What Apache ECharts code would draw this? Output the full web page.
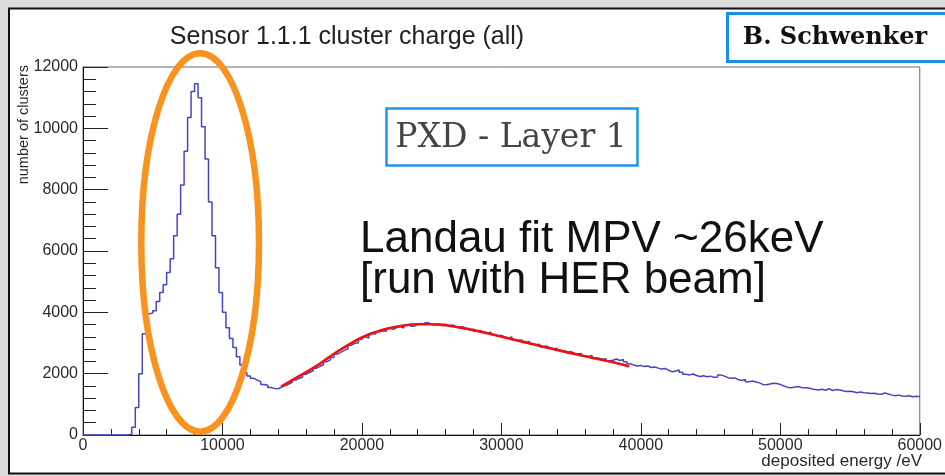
<!DOCTYPE html>
<html>
<head>
<meta charset="utf-8">
<script src="https://cdn.jsdelivr.net/npm/echarts@6/dist/echarts.min.js"></script>
<style>
  html, body { margin: 0; padding: 0; background: #dcdcdc; }
  #chart { width: 945px; height: 476px; }
</style>
</head>
<body>
<div id="chart"></div>
<script>
// Cluster charge histogram: 240 bins of 250 eV from 0 to 60000 eV
const binWidth = 250;
const energyMin = 0;
const energyMax = 60000;
const countMax = 12000;
const countStep = 2000;
const energyStep = 10000;

const clusterCounts = [
  0, 0, 0, 0, 0, 0, 0, 0, 0, 0, 0, 0, 0,
  30, 250, 900, 2000, 3300, 3950, 3980, 4050, 4350, 4650,
  4900, 5300, 5750, 6500, 7200, 8150, 9250, 10350, 11200, 11450,
  11000, 10050, 9000, 7600, 6500, 5450, 4650, 4000, 3500, 3150,
  2850, 2550, 2280, 2030, 1920, 1850, 1790, 1740, 1650, 1620,
  1550, 1520, 1510, 1560,
  1610, 1660, 1720, 1790, 1850, 1880, 1980, 2040, 2090, 2180,
  2240, 2290, 2390, 2450, 2530, 2640, 2700, 2760, 2810, 2930,
  2990, 3000, 3120, 3200, 3160, 3310, 3290, 3370, 3400, 3380,
  3470, 3450, 3500, 3540, 3490, 3580, 3620, 3550, 3600, 3640,
  3590, 3660, 3600, 3590, 3620, 3570, 3610, 3560, 3590, 3530,
  3500, 3540, 3470, 3420, 3450, 3380, 3400, 3340, 3310, 3350,
  3280, 3220, 3250, 3190, 3160, 3200, 3110, 3080, 3100, 3020,
  3050, 2970, 2940, 2960, 2880, 2900, 2840, 2810, 2830, 2760,
  2740, 2700, 2720, 2660, 2640, 2660, 2580, 2560, 2590, 2520,
  2500, 2470, 2490, 2420, 2440, 2480, 2430, 2460, 2390, 2320,
  2280, 2250, 2270, 2230, 2250, 2200, 2220, 2180, 2150, 2170,
  2110, 2060, 2090, 2120, 2050, 1980, 1960, 1990, 1940, 1910,
  1930, 1900, 1920, 1880, 1890, 1960, 1920, 1870, 1850, 1860,
  1800, 1780, 1810, 1740, 1760, 1730, 1700, 1650, 1640, 1660,
  1690, 1680, 1650, 1600, 1560, 1540, 1560, 1580, 1550, 1540,
  1530, 1510, 1480, 1470, 1490, 1460, 1510, 1450, 1480, 1470,
  1440, 1420, 1430, 1410, 1380, 1400, 1380, 1370, 1350, 1360,
  1340, 1330, 1370, 1340, 1300, 1280, 1300, 1270, 1260, 1280,
  1250, 1260, 1250
];

// Landau fit curve (energy in eV, clusters)
const fitEnergy = [14200, 15000, 16000, 17000, 18000, 19000, 20000, 21000, 22000,
  23000, 24000, 25000, 26000, 27000, 28000, 29000, 30000, 31000, 32000,
  33000, 34000, 35000, 36000, 37000, 38000, 39000, 39150];
const fitCounts = [1580, 1790, 2050, 2330, 2650, 2930, 3180, 3360, 3490,
  3570, 3610, 3610, 3580, 3510, 3420, 3320, 3210, 3100, 2990,
  2880, 2770, 2670, 2570, 2470, 2370, 2260, 2220];

// Highlight ring around the low-energy peak, in axis units
const ringCenter = [8400, 6280];
const ringRadius = [4220, 6170];

const titleText = 'Sensor 1.1.1 cluster charge (all)';
const yTitle = 'number of clusters';
const xTitle = 'deposited energy /eV';
const authorText = 'B. Schwenker';
const layerText = 'PXD - Layer 1';
const noteLines = ['Landau fit MPV ~26keV', '[run with HER beam]'];

const histData = clusterCounts.map((c, i) => [energyMin + i * binWidth, c]);
histData.push([energyMin + clusterCounts.length * binWidth, clusterCounts[clusterCounts.length - 1]]);
const fitData = fitEnergy.map((e, i) => [e, fitCounts[i]]);

const chart = echarts.init(document.getElementById('chart'), null, { renderer: 'canvas' });
const sans = 'Liberation Sans, Arial, Helvetica, sans-serif';
const serif = 'DejaVu Serif, serif';
const plainNumber = v => String(v);

const option = {
  backgroundColor: '#dcdcdc',
  animation: false,
  grid: {
    left: 83, right: 23, top: 67, bottom: 41,
    show: true, borderColor: '#6a6a6a', borderWidth: 1, backgroundColor: 'transparent'
  },
  xAxis: {
    type: 'value', min: energyMin, max: energyMax, interval: energyStep,
    axisLine: { show: true, lineStyle: { color: '#111', width: 1 } },
    axisTick: { show: true, inside: true, length: 12, lineStyle: { color: '#222' } },
    minorTick: { show: true, splitNumber: 5, length: 6, lineStyle: { color: '#222' } },
    splitLine: { show: false },
    axisLabel: { color: '#2a2a2a', fontFamily: sans, fontSize: 16, margin: 3, formatter: plainNumber }
  },
  yAxis: {
    type: 'value', min: 0, max: countMax, interval: countStep,
    axisLine: { show: true, lineStyle: { color: '#111', width: 1 } },
    axisTick: { show: true, inside: true, length: 25, lineStyle: { color: '#222' } },
    minorTick: { show: true, splitNumber: 5, length: 13, lineStyle: { color: '#222' } },
    splitLine: { show: false },
    axisLabel: { color: '#2a2a2a', fontFamily: sans, fontSize: 16, margin: 5, formatter: plainNumber }
  },
  series: [
    {
      name: 'clusters', type: 'line', step: 'end', data: histData,
      symbol: 'none', z: 3,
      lineStyle: { color: '#4545c0', width: 1.5 }
    },
    {
      name: 'Landau fit', type: 'line', smooth: true, data: fitData,
      symbol: 'none', z: 4,
      lineStyle: { color: '#f01010', width: 2.6 }
    }
  ]
};
chart.setOption(option);

// Annotation layer, ring placed through the grid's coordinate conversion
const c0 = chart.convertToPixel({ gridIndex: 0 }, ringCenter);
const c1 = chart.convertToPixel({ gridIndex: 0 }, [ringCenter[0] + ringRadius[0], ringCenter[1] + ringRadius[1]]);

chart.setOption({
  graphic: [
    { type: 'rect', z: -10, silent: true,
      shape: { x: 9, y: 8.5, width: 960, height: 465 },
      style: { fill: '#ffffff', stroke: '#111', lineWidth: 2 } },
    { type: 'text', z: 10, x: 347, y: 37,
      style: { text: titleText, fill: '#222', font: '25px ' + sans, align: 'center', verticalAlign: 'middle' } },
    { type: 'text', z: 10, x: 24, y: 65, rotation: Math.PI / 2,
      style: { text: yTitle, fill: '#2a2a2a', font: '14.5px ' + sans, align: 'right', verticalAlign: 'middle' } },
    { type: 'text', z: 10, x: 922, y: 461,
      style: { text: xTitle, fill: '#2a2a2a', font: '17px ' + sans, align: 'right', verticalAlign: 'middle' } },
    { type: 'rect', z: 10,
      shape: { x: 727.5, y: 13.5, width: 240, height: 48 },
      style: { fill: '#fff', stroke: '#1b8fe6', lineWidth: 3 } },
    { type: 'text', z: 11, x: 835, y: 38,
      style: { text: authorText, fill: '#111', font: 'bold 24px ' + serif, align: 'center', verticalAlign: 'middle' } },
    { type: 'rect', z: 10,
      shape: { x: 386.5, y: 108.5, width: 251, height: 57 },
      style: { fill: '#fff', stroke: '#2196e8', lineWidth: 2.5 } },
    { type: 'text', z: 11, x: 511, y: 138,
      style: { text: layerText, fill: '#444', font: '33px ' + serif, align: 'center', verticalAlign: 'middle' } },
    { type: 'text', z: 10, x: 360, y: 240,
      style: { text: noteLines[0], fill: '#111', font: '44px ' + sans, align: 'left', verticalAlign: 'middle' } },
    { type: 'text', z: 10, x: 360, y: 281,
      style: { text: noteLines[1], fill: '#111', font: '44px ' + sans, align: 'left', verticalAlign: 'middle' } },
    { type: 'ellipse', z: 12, silent: true,
      shape: { cx: c0[0], cy: c0[1], rx: Math.abs(c1[0] - c0[0]), ry: Math.abs(c1[1] - c0[1]) },
      style: { fill: 'none', stroke: '#f7931e', lineWidth: 6.5 } }
  ]
});
</script>
</body>
</html>
